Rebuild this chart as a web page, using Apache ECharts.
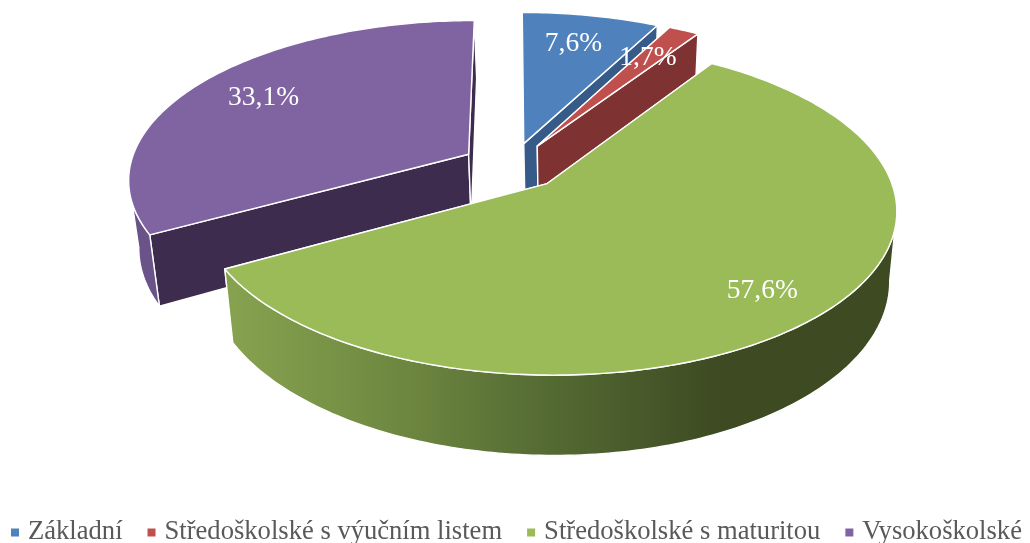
<!DOCTYPE html>
<html>
<head>
<meta charset="utf-8">
<style>
  html, body { margin: 0; padding: 0; background: #fff; }
  #main { width: 1030px; height: 543px; }
</style>
<script src="https://cdn.jsdelivr.net/npm/echarts@6/dist/echarts.min.js"></script>
</head>
<body>
<div id="main"></div>
<script>
  // data (percent)
  var categories = ['Základní', 'Středoškolské s výučním listem', 'Středoškolské s maturitou', 'Vysokoškolské'];
  var shares = [7.6, 1.7, 57.6, 33.1];
  var shareLabels = ['7,6%', '1,7%', '57,6%', '33,1%'];

  // look of each slice
  var topColors = ['#4F81BD', '#C0504D', '#9BBB59', '#8064A2'];
  var sideColors = ['#375B88', '#7E3332', '#3D4A22', '#3D2C4D'];
  var drawOrder = [2, 3, 4, 1];
  var labelRadius = [0.76, 0.74, 0.82, 0.77];
  var labelNudge = [-3, -1, 0, 3];

  // projection of the tilted pie
  var cx = 512, cy = 166, radiusX = 339, radiusY = 157;
  var persp = 0.15, depth = 67, explode = 0.15;
  var vanishX = 581, shrink = 0.0224;

  function project(u, v) {
    var w = 1 - persp * v;
    return [cx + radiusX * u / w, cy + radiusY * v / w];
  }
  function drop(u, v) {
    var p = project(u, v), w = 1 - persp * v;
    return [p[0] - (p[0] - vanishX) * shrink, p[1] + depth / w];
  }

  function sliceAngles(idx) {
    var total = 0, before = 0;
    shares.forEach(function (s, i) {
      total += s;
      if (i < idx) before += s;
    });
    var a0 = before / total * Math.PI * 2;
    return [a0, a0 + shares[idx] / total * Math.PI * 2];
  }

  function wallFill(idx) {
    if (idx !== 2) return idx === 3 ? '#6A5389' : sideColors[idx];
    return {
      type: 'linear', global: true, x: 232, y: 0, x2: 720, y2: 0,
      colorStops: [
        { offset: 0, color: '#86A24F' },
        { offset: 0.35, color: '#6E8740' },
        { offset: 0.65, color: '#546A33' },
        { offset: 1, color: '#3D4A22' }
      ]
    };
  }

  function renderSlice(idx) {
    var ang = sliceAngles(idx), a0 = ang[0], a1 = ang[1], mid = (a0 + a1) / 2;
    var ou = explode * Math.sin(mid), ov = -explode * Math.cos(mid);
    var steps = Math.max(4, Math.ceil((a1 - a0) * 180 / Math.PI));
    var arcTop = [], wallTop = [], wallLow = [], wallSide = [], i, a, u, v;
    for (i = 0; i <= steps; i++) {
      a = a0 + (a1 - a0) * i / steps;
      u = ou + Math.sin(a);
      v = ov - Math.cos(a);
      arcTop.push(project(u, v));
      // only the part of the rim facing the viewer gets a wall
      if (Math.cos(a) < 0.3) {
        wallTop.push(project(u, v));
        wallLow.push(drop(u, v));
        wallSide.push(Math.sin(a));
      }
    }
    // cut the wall at the left and right extremes of the rim
    var iStart = 0, iEnd = wallTop.length - 1, maxX = -Infinity, minX = Infinity;
    wallTop.forEach(function (p, k) {
      if (wallSide[k] > 0 && p[0] > maxX) { maxX = p[0]; iStart = k; }
      if (wallSide[k] < 0 && p[0] < minX) { minX = p[0]; iEnd = k; }
    });
    wallTop = wallTop.slice(iStart, iEnd + 1);
    wallLow = wallLow.slice(iStart, iEnd + 1).reverse();

    var apex = project(ou, ov), apexLow = drop(ou, ov);
    function rimFace(a) {
      var ru = ou + Math.sin(a), rv = ov - Math.cos(a);
      return [apex, project(ru, rv), drop(ru, rv), apexLow];
    }
    var children = [];
    function poly(points, fill) {
      children.push({
        type: 'polygon',
        shape: { points: points },
        style: { fill: fill, stroke: '#fff', lineWidth: 1.4, lineJoin: 'round' }
      });
    }
    poly(rimFace(a0), sideColors[idx]);
    poly(rimFace(a1), sideColors[idx]);
    if (wallTop.length > 1) poly(wallTop.concat(wallLow), wallFill(idx));
    poly([apex].concat(arcTop), topColors[idx]);

    var lr = labelRadius[idx];
    var lp = project(ou + lr * Math.sin(mid), ov - lr * Math.cos(mid));
    children.push({
      type: 'text',
      z2: 50,
      style: {
        text: shareLabels[idx],
        x: lp[0] + labelNudge[idx], y: lp[1],
        fill: '#fff',
        font: '27.5px "Liberation Serif"',
        align: 'center',
        verticalAlign: 'middle'
      }
    });
    return { type: 'group', children: children };
  }

  var series = categories.map(function (name, idx) {
    return {
      name: name,
      type: 'custom',
      coordinateSystem: 'none',
      silent: true,
      z: drawOrder[idx],
      itemStyle: { color: topColors[idx] },
      data: [shares[idx]],
      renderItem: function () { return renderSlice(idx); }
    };
  });

  var chart = echarts.init(document.getElementById('main'));
  chart.setOption({
    animation: false,
    backgroundColor: '#fff',
    legend: {
      data: categories,
      left: 11,
      top: 519,
      padding: 0,
      icon: 'rect',
      itemWidth: 8,
      itemHeight: 8,
      itemGap: 25,
      selectedMode: false,
      textStyle: { fontFamily: 'Liberation Serif', fontSize: 26.6, color: '#595959', padding: [0, 0, 0, 4] }
    },
    series: series
  });
</script>
</body>
</html>
